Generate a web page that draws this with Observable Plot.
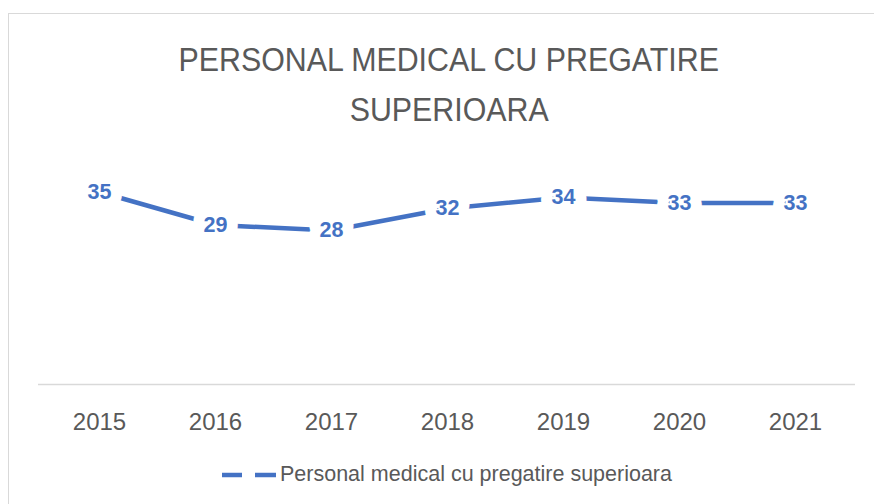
<!DOCTYPE html>
<html>
<head>
<meta charset="utf-8">
<script src="https://cdn.jsdelivr.net/npm/d3@7"></script>
<script src="https://cdn.jsdelivr.net/npm/@observablehq/plot@0.6"></script>
<style>
  html, body { margin: 0; padding: 0; background: #fff; }
  #wrap { position: relative; width: 874px; height: 504px; overflow: hidden; font-family: "Liberation Sans", Arial, sans-serif; }
  #frame { position: absolute; left: 8px; top: 13px; width: 900px; height: 520px; border-left: 1.5px solid #d9d9d9; border-top: 1.5px solid #d9d9d9; box-sizing: border-box; }
  #title { position: absolute; left: 0; width: 898px; top: 35px; text-align: center; color: #595959; font-size: 33px; line-height: 50px; }
  #title span { display: inline-block; transform: scaleX(0.92); transform-origin: center; }
  #chart { position: absolute; left: 0; top: 140px; }
  #legend { position: absolute; left: 0; top: 460px; width: 874px; height: 30px; }
  #legend svg { position: absolute; left: 218px; top: 0; }
  #legend span { position: absolute; left: 280px; top: 2px; font-size: 21.5px; color: #595959; white-space: nowrap; }
</style>
</head>
<body>
<div id="wrap">
  <div id="frame"></div>
  <div id="title"><span>PERSONAL MEDICAL CU PREGATIRE</span><br><span>SUPERIOARA</span></div>
  <div id="chart"></div>
  <div id="legend">
    <svg width="62" height="30"><line x1="4" x2="24" y1="15" y2="15" stroke="#4472C4" stroke-width="4.5"/><line x1="37" x2="58" y1="15" y2="15" stroke="#4472C4" stroke-width="4.5"/></svg>
    <span>Personal medical cu pregatire superioara</span>
  </div>
</div>
<script>
const years = ["2015", "2016", "2017", "2018", "2019", "2020", "2021"];
const values = [35, 29, 28, 32, 34, 33, 33];
const seriesName = "Personal medical cu pregatire superioara";

const data = years.map((y, i) => ({year: y, value: values[i]}));
const blue = "#4472C4";

const plot = Plot.plot({
  width: 874,
  height: 305,
  marginLeft: 38,
  marginRight: 19,
  marginTop: 24,
  marginBottom: 61,
  style: {fontFamily: "Liberation Sans, Arial, sans-serif", background: "transparent"},
  x: {type: "point", domain: years, padding: 0.5, label: null},
  y: {domain: [0, 40], axis: null},
  marks: [
    Plot.ruleY([0], {stroke: "#d9d9d9", strokeWidth: 1.5}),
    Plot.axisX({tickSize: 0, tickPadding: 28, fontSize: 24, fill: "#595959", label: null}),
    Plot.line(data, {x: "year", y: "value", stroke: blue, strokeWidth: 4.5}),
    Plot.text(data, {x: "year", y: "value", text: d => String(d.value), fill: blue, fontSize: 21.5, fontWeight: "bold", stroke: "white", strokeWidth: 22, strokeLinejoin: "round"})
  ]
});
document.getElementById("chart").appendChild(plot);
</script>
</body>
</html>
